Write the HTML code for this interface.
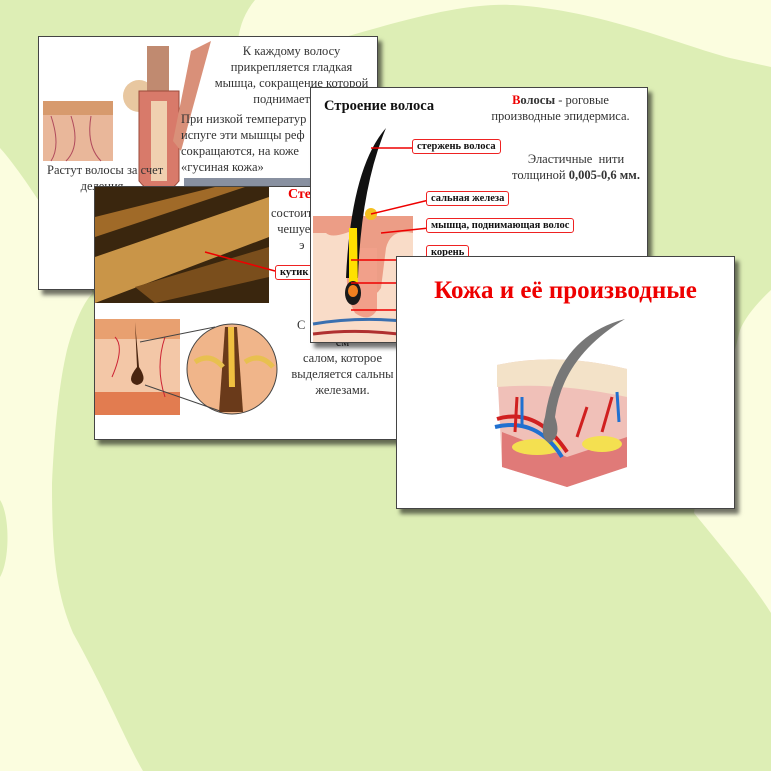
<!DOCTYPE html>
<html><head><meta charset="utf-8"><style>
body{margin:0;width:771px;height:771px;overflow:hidden;background:#fbfddf;font-family:"Liberation Serif",serif;position:relative}
.s{position:absolute;background:#fff;border:1px solid #444;box-shadow:4px 5px 4px rgba(0,0,0,.55);overflow:hidden}
.t{position:absolute;font-size:12.5px;color:#333;line-height:16px;white-space:nowrap}
.lab{position:absolute;border:1.5px solid #e22;border-radius:3px;background:#fff;font-weight:bold;font-size:10.5px;padding:1px 4px;color:#111;white-space:nowrap}
</style></head><body>
<svg style="position:absolute;left:0;top:0" width="771" height="771">
<path d="M0 0 L255 0 C245 12 240 25 238 40 L345 37 C420 15 470 3 513 5 C600 10 680 45 730 58 L771 67 L771 290 C755 305 745 318 740 330 C720 410 700 470 694 513 C720 545 750 580 771 613 L771 771 L143 771 C125 740 110 700 73 633 C55 590 52 550 52 483 C55 420 60 380 67 350 C75 320 85 300 93 293 C60 230 20 170 0 148 Z" fill="#ddeeb5"/>
<path d="M0 500 C10 515 10 560 0 577 Z" fill="#ddeeb5"/>
</svg>

<!-- slide 1 -->
<div class="s" style="left:38px;top:36px;width:338px;height:252px">
<svg style="position:absolute;left:2px;top:4px" width="170" height="160">
<rect x="2" y="60" width="70" height="60" fill="#e9b79a"/><rect x="2" y="60" width="70" height="14" fill="#d79a6d"/>
<path d="M10 75 q10 30 0 45 M30 75 q10 30 -5 45 M50 75 q-5 30 10 45" stroke="#b04a5c" fill="none"/>
<ellipse cx="98" cy="55" rx="16" ry="16" fill="#e8c7a0"/>
<rect x="106" y="5" width="22" height="55" fill="#c08a70"/>
<path d="M98 50 L138 50 L138 140 Q118 165 98 140 Z" fill="#d87a6a" stroke="#9a4a3a"/>
<path d="M110 60 L126 60 L126 140 L110 140Z" fill="#f0d0b0"/>
<path d="M150 10 L170 0 L140 110 L132 100Z" fill="#d99079"/>
</svg>
<div class="t" style="left:175px;top:6px;text-align:center;width:155px">К каждому волосу<br>прикрепляется гладкая<br>мышца, сокращение которой<br>поднимает сте</div>
<div class="t" style="left:142px;top:74px">При низкой температур<br>испуге эти мышцы реф<br>сокращаются, на коже<br>«гусиная кожа»</div>
<div class="t" style="left:8px;top:125px;text-align:center;width:110px">Растут волосы за счет<br>деления<br>лу</div>
<div style="position:absolute;left:145px;top:141px;width:200px;height:10px;background:#8890a0"></div>
</div>

<!-- slide 3 -->
<div class="s" style="left:94px;top:186px;width:306px;height:252px">
<svg style="position:absolute;left:0;top:0" width="306" height="252">
<rect x="0" y="0" width="174" height="116" fill="#3a260e"/>
<path d="M0 70 L174 10 L174 50 L0 116Z" fill="#c99548"/>
<path d="M0 30 L120 0 L150 0 L0 50Z" fill="#a06a28"/>
<path d="M40 100 L174 60 L174 90 L60 116Z" fill="#7a4e1c"/>
<line x1="110" y1="65" x2="180" y2="84" stroke="#e00" stroke-width="1.5"/>
<rect x="0" y="132" width="85" height="96" fill="#f3c7a7"/><rect x="0" y="132" width="85" height="20" fill="#e8a070"/>
<rect x="0" y="205" width="85" height="23" fill="#e27c50"/>
<path d="M20 150 q10 10 -3 40 M70 150 q-10 30 0 60" stroke="#c23" fill="none"/>
<path d="M40 135 L42 180 Q30 195 42 198 Q54 195 44 180Z" fill="#4a2510"/>
<circle cx="137" cy="182" r="45" fill="#f0b58a" stroke="#444"/>
<path d="M130 140 L142 140 L148 225 L124 225Z" fill="#6a3a1a"/><path d="M133 140 L139 140 L140 200 L134 200Z" fill="#f0c040"/>
<path d="M100 175 q15 -10 28 5 M150 175 q15 -10 28 5" stroke="#e8c050" stroke-width="5" fill="none"/>
<line x1="45" y1="155" x2="120" y2="140" stroke="#444"/><line x1="50" y1="198" x2="125" y2="224" stroke="#444"/>
</svg>
<div class="t" style="left:193px;top:0px;font-weight:bold;color:#e00;font-size:14px">Сте</div>
<div class="t" style="left:176px;top:18px">состоит<br>&nbsp;&nbsp;чешуе<br>&nbsp;&nbsp;&nbsp;&nbsp;&nbsp;&nbsp;&nbsp;&nbsp;&nbsp;э</div>
<div class="lab" style="left:180px;top:78px">кутик</div>
<div class="t" style="left:202px;top:130px">С</div>
<div class="t" style="left:190px;top:147px;text-align:center;width:115px">см<br>салом, которое<br>выделяется сальны<br>железами.</div>
</div>

<!-- slide 2 -->
<div class="s" style="left:310px;top:87px;width:336px;height:254px">
<div style="position:absolute;left:13px;top:10px;font-weight:bold;font-size:14.5px;color:#111">Строение волоса</div>
<div class="t" style="left:177px;top:4px;text-align:center;width:145px"><b style="color:#e00">В</b><b>олосы</b> - роговые<br>производные эпидермиса.</div>
<div class="t" style="left:190px;top:63px;text-align:center;width:150px">Эластичные&nbsp; нити<br>толщиной <b>0,005-0,6 мм.</b></div>
<svg style="position:absolute;left:0;top:0" width="336" height="254">
<rect x="2" y="128" width="100" height="126" fill="#f9dcc8"/>
<path d="M2 128 L102 128 L102 145 Q80 140 75 160 L70 200 Q60 215 52 200 L48 160 Q45 140 35 145 Q20 150 15 145 L2 145Z" fill="#ec9d86"/>
<path d="M40 160 Q30 200 44 225 Q58 235 66 222 L66 160" fill="#f1a08a"/>
<path d="M75 40 Q40 80 35 190 L47 190 Q50 100 75 40Z" fill="#111"/>
<path d="M38 140 L46 140 L47 205 L38 205Z" fill="#ffe000"/>
<ellipse cx="42" cy="205" rx="8" ry="12" fill="#1a1a1a"/><ellipse cx="42" cy="203" rx="5" ry="6" fill="#f08020"/>
<circle cx="60" cy="126" r="6" fill="#f4c020"/>
<path d="M2 236 Q50 228 102 234" stroke="#3a70b0" stroke-width="3" fill="none"/>
<path d="M2 246 Q50 240 102 248" stroke="#b03030" stroke-width="3" fill="none"/>
<g stroke="#e00" stroke-width="1.5"><line x1="60" y1="60" x2="104" y2="60"/><line x1="60" y1="126" x2="118" y2="112"/><line x1="70" y1="145" x2="118" y2="140"/><line x1="40" y1="172" x2="120" y2="172"/><line x1="40" y1="195" x2="120" y2="195"/><line x1="40" y1="222" x2="120" y2="222"/></g>
</svg>
<div class="lab" style="left:101px;top:51px">стержень волоса</div>
<div class="lab" style="left:115px;top:103px">сальная железа</div>
<div class="lab" style="left:115px;top:130px">мышца, поднимающая волос</div>
<div class="lab" style="left:115px;top:157px">корень</div>
</div>

<!-- slide 4 -->
<div class="s" style="left:396px;top:256px;width:337px;height:251px">
<div style="position:absolute;left:0;width:337px;top:20px;text-align:center;font-weight:bold;font-size:25px;color:#e00">Кожа и её производные</div>
<svg style="position:absolute;left:0;top:0" width="337" height="251">
<path d="M100 108 Q160 95 230 112 L230 210 L170 230 L105 210Z" fill="#f0c0b8"/>
<path d="M100 108 Q160 95 230 112 L230 140 Q160 125 100 130Z" fill="#f3e2c8"/>
<path d="M105 175 L170 200 L230 180 L230 210 L170 230 L105 210Z" fill="#e07a78"/>
<ellipse cx="140" cy="190" rx="25" ry="8" fill="#f4e050"/><ellipse cx="205" cy="187" rx="20" ry="8" fill="#f4e050"/>
<path d="M98 170 Q140 160 165 200" stroke="#2070d0" stroke-width="4" fill="none"/>
<path d="M100 162 Q140 150 170 195" stroke="#d02020" stroke-width="4" fill="none"/>
<path d="M120 140 L118 175 M215 140 L205 175 M190 150 L180 180" stroke="#d02020" stroke-width="3"/>
<path d="M125 140 L125 170 M220 135 L222 165" stroke="#2070d0" stroke-width="3"/>
<path d="M228 62 Q160 80 148 160 Q142 180 152 186 Q165 180 158 160 Q165 100 228 62Z" fill="#777"/>
</svg>
</div>
</body></html>
